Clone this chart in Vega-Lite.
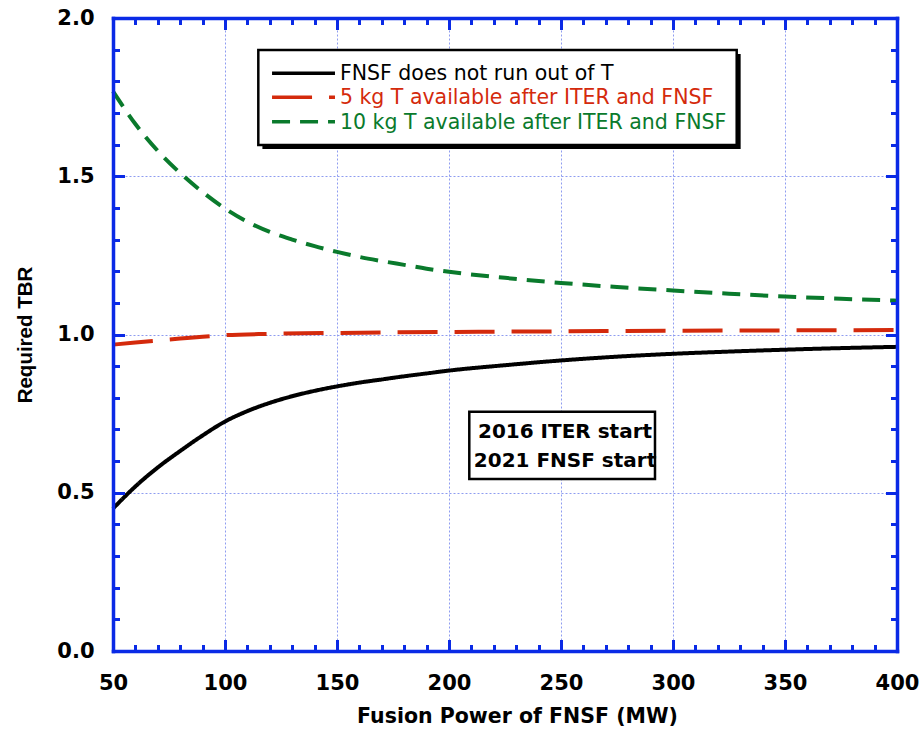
{
  "$schema": "https://vega.github.io/schema/vega-lite/v6.json",
  "width": 784,
  "height": 633,
  "autosize": {"type": "none"},
  "padding": {"left": 113, "top": 18, "right": 25, "bottom": 79},
  "background": "white",
  "config": {
    "view": {"stroke": null},
    "axis": {
      "domainColor": "#0a2ae6",
      "domainWidth": 3.5,
      "domainCap": "square",
      "tickColor": "#0a2ae6",
      "tickWidth": 3,
      "labelFont": "DejaVu Sans",
      "labelFontSize": 21,
      "labelFontWeight": "bold",
      "labelColor": "black",
      "labelFlush": false,
      "labelOverlap": false
    }
  },
  "datasets": {
    "curves": [
      {"p": 50, "tbr": 0.450, "s": "FNSF does not run out of T"},
      {"p": 60, "tbr": 0.520, "s": "FNSF does not run out of T"},
      {"p": 70, "tbr": 0.580, "s": "FNSF does not run out of T"},
      {"p": 80, "tbr": 0.632, "s": "FNSF does not run out of T"},
      {"p": 90, "tbr": 0.681, "s": "FNSF does not run out of T"},
      {"p": 100, "tbr": 0.725, "s": "FNSF does not run out of T"},
      {"p": 110, "tbr": 0.758, "s": "FNSF does not run out of T"},
      {"p": 120, "tbr": 0.784, "s": "FNSF does not run out of T"},
      {"p": 130, "tbr": 0.805, "s": "FNSF does not run out of T"},
      {"p": 140, "tbr": 0.822, "s": "FNSF does not run out of T"},
      {"p": 150, "tbr": 0.836, "s": "FNSF does not run out of T"},
      {"p": 160, "tbr": 0.848, "s": "FNSF does not run out of T"},
      {"p": 170, "tbr": 0.858, "s": "FNSF does not run out of T"},
      {"p": 180, "tbr": 0.868, "s": "FNSF does not run out of T"},
      {"p": 190, "tbr": 0.877, "s": "FNSF does not run out of T"},
      {"p": 200, "tbr": 0.886, "s": "FNSF does not run out of T"},
      {"p": 225, "tbr": 0.903, "s": "FNSF does not run out of T"},
      {"p": 250, "tbr": 0.918, "s": "FNSF does not run out of T"},
      {"p": 275, "tbr": 0.930, "s": "FNSF does not run out of T"},
      {"p": 300, "tbr": 0.939, "s": "FNSF does not run out of T"},
      {"p": 325, "tbr": 0.946, "s": "FNSF does not run out of T"},
      {"p": 350, "tbr": 0.952, "s": "FNSF does not run out of T"},
      {"p": 375, "tbr": 0.957, "s": "FNSF does not run out of T"},
      {"p": 400, "tbr": 0.961, "s": "FNSF does not run out of T"},
      {"p": 50, "tbr": 0.968, "s": "5 kg T available after ITER and FNSF"},
      {"p": 60, "tbr": 0.975, "s": "5 kg T available after ITER and FNSF"},
      {"p": 70, "tbr": 0.981, "s": "5 kg T available after ITER and FNSF"},
      {"p": 80, "tbr": 0.987, "s": "5 kg T available after ITER and FNSF"},
      {"p": 90, "tbr": 0.993, "s": "5 kg T available after ITER and FNSF"},
      {"p": 100, "tbr": 0.998, "s": "5 kg T available after ITER and FNSF"},
      {"p": 120, "tbr": 1.002, "s": "5 kg T available after ITER and FNSF"},
      {"p": 150, "tbr": 1.005, "s": "5 kg T available after ITER and FNSF"},
      {"p": 200, "tbr": 1.008, "s": "5 kg T available after ITER and FNSF"},
      {"p": 250, "tbr": 1.010, "s": "5 kg T available after ITER and FNSF"},
      {"p": 300, "tbr": 1.012, "s": "5 kg T available after ITER and FNSF"},
      {"p": 350, "tbr": 1.013, "s": "5 kg T available after ITER and FNSF"},
      {"p": 400, "tbr": 1.014, "s": "5 kg T available after ITER and FNSF"},
      {"p": 50, "tbr": 1.768, "s": "10 kg T available after ITER and FNSF"},
      {"p": 60, "tbr": 1.665, "s": "10 kg T available after ITER and FNSF"},
      {"p": 70, "tbr": 1.580, "s": "10 kg T available after ITER and FNSF"},
      {"p": 80, "tbr": 1.510, "s": "10 kg T available after ITER and FNSF"},
      {"p": 90, "tbr": 1.450, "s": "10 kg T available after ITER and FNSF"},
      {"p": 100, "tbr": 1.398, "s": "10 kg T available after ITER and FNSF"},
      {"p": 110, "tbr": 1.356, "s": "10 kg T available after ITER and FNSF"},
      {"p": 120, "tbr": 1.324, "s": "10 kg T available after ITER and FNSF"},
      {"p": 130, "tbr": 1.300, "s": "10 kg T available after ITER and FNSF"},
      {"p": 140, "tbr": 1.279, "s": "10 kg T available after ITER and FNSF"},
      {"p": 150, "tbr": 1.261, "s": "10 kg T available after ITER and FNSF"},
      {"p": 160, "tbr": 1.245, "s": "10 kg T available after ITER and FNSF"},
      {"p": 170, "tbr": 1.232, "s": "10 kg T available after ITER and FNSF"},
      {"p": 180, "tbr": 1.220, "s": "10 kg T available after ITER and FNSF"},
      {"p": 190, "tbr": 1.208, "s": "10 kg T available after ITER and FNSF"},
      {"p": 200, "tbr": 1.198, "s": "10 kg T available after ITER and FNSF"},
      {"p": 225, "tbr": 1.179, "s": "10 kg T available after ITER and FNSF"},
      {"p": 250, "tbr": 1.163, "s": "10 kg T available after ITER and FNSF"},
      {"p": 275, "tbr": 1.150, "s": "10 kg T available after ITER and FNSF"},
      {"p": 300, "tbr": 1.139, "s": "10 kg T available after ITER and FNSF"},
      {"p": 325, "tbr": 1.129, "s": "10 kg T available after ITER and FNSF"},
      {"p": 350, "tbr": 1.120, "s": "10 kg T available after ITER and FNSF"},
      {"p": 375, "tbr": 1.113, "s": "10 kg T available after ITER and FNSF"},
      {"p": 400, "tbr": 1.107, "s": "10 kg T available after ITER and FNSF"}
    ]
  },
  "layer": [
    {
      "data": {"name": "curves"},
      "mark": {"type": "line", "strokeWidth": 4, "interpolate": "monotone", "strokeCap": "butt"},
      "encoding": {
        "x": {
          "field": "p", "type": "quantitative",
          "scale": {"domain": [50, 400], "nice": false, "zero": false},
          "axis": {
            "orient": "bottom", "values": [50, 100, 150, 200, 250, 300, 350, 400],
            "format": "d", "grid": false, "ticks": true, "tickSize": -11.5,
            "labelPadding": 32.5, "domain": true, "zindex": 2,
            "title": "Fusion Power of FNSF (MW)",
            "titleFont": "DejaVu Sans", "titleFontSize": 20.5, "titleFontWeight": "bold", "titleColor": "black",
            "titleX": 404, "titleY": 71, "titleBaseline": "alphabetic", "titleAlign": "center"
          }
        },
        "y": {
          "field": "tbr", "type": "quantitative",
          "scale": {"domain": [0, 2], "nice": false, "zero": false},
          "axis": {
            "orient": "left", "values": [0, 0.5, 1, 1.5, 2],
            "format": ".1f", "grid": false, "ticks": true, "tickSize": -11.5,
            "labelPadding": 30.5, "domain": true, "zindex": 2,
            "title": "Required TBR",
            "titleFont": "Liberation Sans", "titleFontSize": 20.5, "titleFontWeight": "bold", "titleColor": "black",
            "titleX": -82, "titleY": 316.5, "titleAngle": 270, "titleBaseline": "alphabetic", "titleAlign": "center"
          }
        },
        "color": {
          "field": "s", "type": "nominal", "legend": null,
          "scale": {
            "domain": ["FNSF does not run out of T", "5 kg T available after ITER and FNSF", "10 kg T available after ITER and FNSF"],
            "range": ["#000000", "#d42a0c", "#0a7a2c"]
          }
        },
        "strokeDash": {
          "field": "s", "type": "nominal", "legend": null,
          "scale": {
            "domain": ["FNSF does not run out of T", "5 kg T available after ITER and FNSF", "10 kg T available after ITER and FNSF"],
            "range": [[1, 0], [40, 17], [18, 10]]
          }
        }
      }
    },
    {
      "data": {"values": [{}]},
      "mark": {"type": "rect", "fill": "black", "stroke": null},
      "encoding": {
        "x": {"datum": 116.7, "type": "quantitative",
          "axis": {"orient": "bottom", "values": [100, 150, 200, 250, 300, 350], "grid": true,
            "gridColor": "#8e9cf0", "gridDash": [2, 2], "gridWidth": 1, "ticks": false, "labels": false,
            "domain": false, "title": null, "zindex": 0}},
        "x2": {"datum": 330.2},
        "y": {"datum": 1.886, "type": "quantitative",
          "axis": {"orient": "left", "values": [0.5, 1, 1.5], "grid": true,
            "gridColor": "#8e9cf0", "gridDash": [2, 2], "gridWidth": 1, "ticks": false, "labels": false,
            "domain": false, "title": null, "zindex": 0}},
        "y2": {"datum": 1.586}
      }
    },
    {
      "data": {"values": [{}]},
      "mark": {"type": "rect", "fill": "white", "stroke": "black", "strokeWidth": 2.5},
      "encoding": {
        "x": {"datum": 114.87, "type": "quantitative",
          "axis": {"orient": "top", "values": [50, 100, 150, 200, 250, 300, 350, 400], "grid": false,
            "tickSize": -11.5, "labels": false, "domain": true, "title": null, "zindex": 2}},
        "x2": {"datum": 328.44},
        "y": {"datum": 1.899, "type": "quantitative",
          "axis": {"orient": "right", "values": [0, 0.5, 1, 1.5, 2], "grid": false,
            "tickSize": -11.5, "labels": false, "domain": true, "title": null, "zindex": 2}},
        "y2": {"datum": 1.599}
      }
    },
    {
      "data": {"values": [{}]},
      "mark": {"type": "rule", "stroke": "black", "strokeWidth": 3.5, "strokeCap": "butt"},
      "encoding": {
        "x": {"datum": 121.0, "type": "quantitative",
          "axis": {"orient": "top", "values": [60, 70, 80, 90, 110, 120, 130, 140, 160, 170, 180, 190, 210, 220, 230, 240, 260, 270, 280, 290, 310, 320, 330, 340, 360, 370, 380, 390],
            "grid": false, "tickSize": -6.5, "labels": false, "domain": false, "title": null, "zindex": 2}},
        "x2": {"datum": 149.1},
        "y": {"datum": 1.8253, "type": "quantitative",
          "axis": {"orient": "right", "values": [0.1, 0.2, 0.3, 0.4, 0.6, 0.7, 0.8, 0.9, 1.1, 1.2, 1.3, 1.4, 1.6, 1.7, 1.8, 1.9],
            "grid": false, "tickSize": -6.5, "labels": false, "domain": false, "title": null, "zindex": 2}}
      }
    },
    {
      "data": {"values": [{}]},
      "mark": {"type": "rule", "stroke": "#d42a0c", "strokeWidth": 3.5, "strokeCap": "butt", "strokeDash": [40, 17]},
      "encoding": {
        "x": {"datum": 121.0, "type": "quantitative",
          "axis": {"orient": "bottom", "values": [60, 70, 80, 90, 110, 120, 130, 140, 160, 170, 180, 190, 210, 220, 230, 240, 260, 270, 280, 290, 310, 320, 330, 340, 360, 370, 380, 390],
            "grid": false, "tickSize": -6.5, "labels": false, "domain": false, "title": null, "zindex": 2}},
        "x2": {"datum": 149.1},
        "y": {"datum": 1.7495, "type": "quantitative",
          "axis": {"orient": "left", "values": [0.1, 0.2, 0.3, 0.4, 0.6, 0.7, 0.8, 0.9, 1.1, 1.2, 1.3, 1.4, 1.6, 1.7, 1.8, 1.9],
            "grid": false, "tickSize": -6.5, "labels": false, "domain": false, "title": null, "zindex": 2}}
      }
    },
    {
      "data": {"values": [{}]},
      "mark": {"type": "rule", "stroke": "#0a7a2c", "strokeWidth": 3.5, "strokeCap": "butt", "strokeDash": [18, 10]},
      "encoding": {
        "x": {"datum": 121.0, "type": "quantitative", "axis": null},
        "x2": {"datum": 149.1},
        "y": {"datum": 1.6724, "type": "quantitative", "axis": null}
      }
    },
    {
      "data": {"values": [{}]},
      "mark": {"type": "text", "align": "left", "baseline": "alphabetic", "font": "DejaVu Sans", "fontSize": 20.5, "color": "black"},
      "encoding": {
        "x": {"datum": 151.3, "type": "quantitative", "axis": null},
        "y": {"datum": 1.8032, "type": "quantitative", "axis": null},
        "text": {"value": "FNSF does not run out of T"}
      }
    },
    {
      "data": {"values": [{}]},
      "mark": {"type": "text", "align": "left", "baseline": "alphabetic", "font": "DejaVu Sans", "fontSize": 20.5, "color": "#d42a0c"},
      "encoding": {
        "x": {"datum": 151.3, "type": "quantitative", "axis": null},
        "y": {"datum": 1.7274, "type": "quantitative", "axis": null},
        "text": {"value": "5 kg T available after ITER and FNSF"}
      }
    },
    {
      "data": {"values": [{}]},
      "mark": {"type": "text", "align": "left", "baseline": "alphabetic", "font": "DejaVu Sans", "fontSize": 20.5, "color": "#0a7a2c"},
      "encoding": {
        "x": {"datum": 151.3, "type": "quantitative", "axis": null},
        "y": {"datum": 1.6503, "type": "quantitative", "axis": null},
        "text": {"value": "10 kg T available after ITER and FNSF"}
      }
    },
    {
      "data": {"values": [{}]},
      "mark": {"type": "rect", "fill": "white", "stroke": "black", "strokeWidth": 2.5},
      "encoding": {
        "x": {"datum": 209.06, "type": "quantitative", "axis": null},
        "x2": {"datum": 291.96},
        "y": {"datum": 0.7561, "type": "quantitative", "axis": null},
        "y2": {"datum": 0.5434}
      }
    },
    {
      "data": {"values": [{}]},
      "mark": {"type": "text", "align": "center", "baseline": "alphabetic", "font": "DejaVu Sans", "fontSize": 20, "fontWeight": "bold", "color": "black"},
      "encoding": {
        "x": {"datum": 251.8, "type": "quantitative", "axis": null},
        "y": {"datum": 0.672, "type": "quantitative", "axis": null},
        "text": {"value": "2016 ITER start"}
      }
    },
    {
      "data": {"values": [{}]},
      "mark": {"type": "text", "align": "center", "baseline": "alphabetic", "font": "DejaVu Sans", "fontSize": 20, "fontWeight": "bold", "color": "black"},
      "encoding": {
        "x": {"datum": 251.8, "type": "quantitative", "axis": null},
        "y": {"datum": 0.5823, "type": "quantitative", "axis": null},
        "text": {"value": "2021 FNSF start"}
      }
    }
  ],
  "resolve": {"axis": {"x": "independent", "y": "independent"}}
}
